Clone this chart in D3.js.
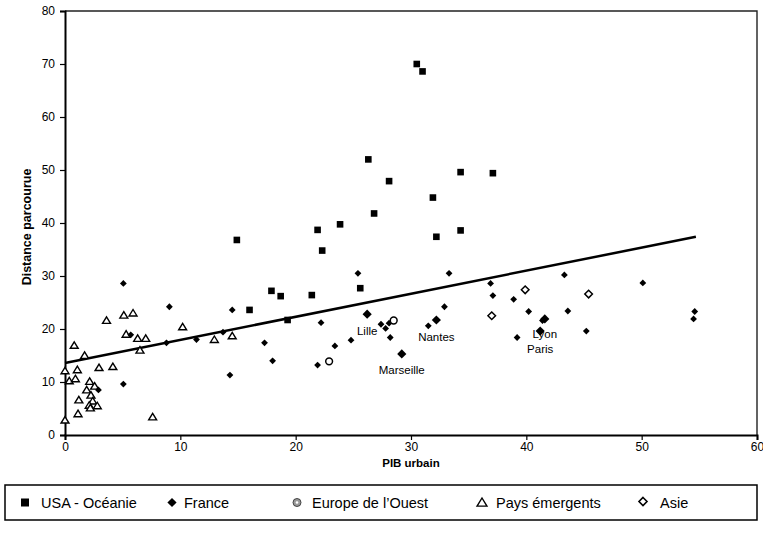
<!DOCTYPE html>
<html>
<head>
<meta charset="utf-8">
<script src="https://cdn.jsdelivr.net/npm/d3@7"></script>
<style>
  html, body { margin: 0; padding: 0; background: #fff; }
  svg { display: block; font-family: "Liberation Sans", Arial, sans-serif; }
</style>
</head>
<body>
<svg id="chart" width="763" height="537"></svg>
<script>
// ---- Data: PIB urbain (x) vs distance parcourue (y) ----
const usaX = [30.5, 31.0, 26.3, 34.3, 37.1, 28.1, 31.9, 26.8, 23.85, 21.9, 34.3, 32.2, 14.9, 22.3, 17.9, 18.7, 21.4, 16.0, 25.6, 19.3];
const usaY = [70.0, 68.6, 52.0, 49.6, 49.4, 47.9, 44.8, 41.8, 39.75, 38.7, 38.6, 37.4, 36.8, 34.8, 27.2, 26.2, 26.4, 23.6, 27.7, 21.7];

const franceX = [5.06, 9.05, 5.06, 2.9, 5.7, 8.8, 11.4, 13.7, 14.5, 14.3, 17.3, 18.0, 21.9, 22.2, 23.4, 24.8, 25.4, 27.4, 27.8, 28.1, 28.2, 31.5, 32.9, 33.3, 36.9, 37.1, 38.9, 40.2, 39.2, 41.4, 43.3, 43.6, 45.2, 50.1, 54.6, 54.5];
const franceY = [28.6, 24.2, 9.6, 8.5, 18.9, 17.4, 18.0, 19.4, 23.6, 11.3, 17.4, 14.0, 13.2, 21.2, 16.8, 17.9, 30.5, 20.9, 20.1, 21.1, 18.4, 20.6, 24.2, 30.5, 28.6, 26.3, 25.6, 23.3, 18.4, 21.6, 30.2, 23.4, 19.6, 28.7, 23.3, 21.9];

// Named French cities (part of the France series)
const villes = ["Lille", "Nantes", "Marseille", "Lyon", "Paris"];
const villesX = [26.2, 32.2, 29.2, 41.6, 41.2];
const villesY = [22.8, 21.7, 15.3, 21.9, 19.6];

const europeX = [28.5, 22.9];
const europeY = [21.6, 13.9];

const emergentsX = [0.8, 1.7, 3.6, 5.1, 5.9, 5.3, 6.3, 7.0, 6.5, 1.07, 2.95, 4.15, 0.37, 0.9, 2.14, 2.57, 1.88, 2.25, 1.2, 2.4, 2.1, 2.8, 2.2, 1.13, 7.6, 0, 0, 10.2, 12.95, 14.5];
const emergentsY = [16.9, 15.0, 21.6, 22.6, 23.0, 19.0, 18.2, 18.2, 16.0, 12.3, 12.7, 12.9, 10.2, 10.6, 10.1, 9.2, 8.5, 7.5, 6.6, 6.4, 5.6, 5.5, 5.1, 4.0, 3.4, 12.1, 2.8, 20.4, 18.0, 18.7];

const asieX = [37.0, 39.9, 45.4];
const asieY = [22.5, 27.4, 26.6];

// Linear trend line
const trendX = [0, 54.7];
const trendY = [13.6, 37.4];

const xTicks = [0, 10, 20, 30, 40, 50, 60];
const yTicks = [0, 10, 20, 30, 40, 50, 60, 70, 80];
const legendLabels = ["USA - Océanie", "France", "Europe de l\u2019Ouest", "Pays émergents", "Asie"];

// ---- Layout ----
const svg = d3.select("#chart");
const plot = { left: 65, right: 757, top: 11, bottom: 435 };

const x = d3.scaleLinear().domain([0, 60]).range([plot.left, plot.right]);
const y = d3.scaleLinear().domain([0, 80]).range([plot.bottom, plot.top]);

const zip = (xs, ys) => xs.map((v, i) => [v, ys[i]]);

// Frame (top and right sides)
svg.append("path")
  .attr("d", `M${plot.left},${plot.top}H${plot.right}V${plot.bottom}`)
  .attr("fill", "none").attr("stroke", "#222").attr("stroke-width", 1.4);

// Axes
const xAxis = svg.append("g")
  .attr("transform", `translate(0,${plot.bottom})`)
  .call(d3.axisBottom(x).tickValues(xTicks).tickSize(5).tickPadding(2).tickFormat(d3.format("d")));
const yAxis = svg.append("g")
  .attr("transform", `translate(${plot.left},0)`)
  .call(d3.axisLeft(y).tickValues(yTicks).tickSize(5).tickPadding(5).tickFormat(d3.format("d")));

[xAxis, yAxis].forEach(g => {
  g.select(".domain").attr("stroke", "#000").attr("stroke-width", 2);
  g.selectAll(".tick line").attr("stroke", "#000").attr("stroke-width", 1.2);
  g.selectAll(".tick text").attr("fill", "#000")
    .style("font-family", "'Liberation Sans', Arial, sans-serif")
    .style("font-size", "12px");
});

// Axis titles
svg.append("text")
  .attr("x", (plot.left + plot.right) / 2).attr("y", 467)
  .attr("text-anchor", "middle")
  .style("font-size", "11.5px").style("font-weight", "bold")
  .text("PIB urbain");

svg.append("text")
  .attr("transform", `translate(27,${(plot.top + plot.bottom) / 2 + 4}) rotate(-90)`)
  .attr("text-anchor", "middle").attr("dominant-baseline", "central")
  .style("font-size", "12.5px").style("font-weight", "bold")
  .text("Distance parcourue");

// Trend line
svg.append("path")
  .datum(zip(trendX, trendY))
  .attr("d", d3.line().x(d => x(d[0])).y(d => y(d[1])))
  .attr("fill", "none").attr("stroke", "#000").attr("stroke-width", 2.5);

// Marker shapes
const diamond = (r) => `M0,${-r}L${r},0L0,${r}L${-r},0Z`;
const triangle = (r) => `M0,${-r}L${r * 1.1},${r * 0.8}L${-r * 1.1},${r * 0.8}Z`;

const g = svg.append("g");

// Pays émergents (hollow triangles)
g.selectAll(".emergent").data(zip(emergentsX, emergentsY)).join("path")
  .attr("class", "emergent")
  .attr("transform", d => `translate(${x(d[0])},${y(d[1])})`)
  .attr("d", triangle(3.6))
  .attr("fill", "#fff").attr("stroke", "#000").attr("stroke-width", 1.4);

// USA - Océanie (filled squares)
g.selectAll(".usa").data(zip(usaX, usaY)).join("rect")
  .attr("class", "usa")
  .attr("x", d => x(d[0]) - 3.3).attr("y", d => y(d[1]) - 3.3)
  .attr("width", 6.6).attr("height", 6.6)
  .attr("fill", "#000");

// France (filled diamonds)
g.selectAll(".france").data(zip(franceX, franceY)).join("path")
  .attr("class", "france")
  .attr("transform", d => `translate(${x(d[0])},${y(d[1])})`)
  .attr("d", diamond(3.4))
  .attr("fill", "#000");

g.selectAll(".ville").data(zip(villesX, villesY)).join("path")
  .attr("class", "ville")
  .attr("transform", d => `translate(${x(d[0])},${y(d[1])})`)
  .attr("d", diamond(4.6))
  .attr("fill", "#000");

// Europe de l'Ouest (ringed circles)
g.selectAll(".europe").data(zip(europeX, europeY)).join("circle")
  .attr("class", "europe")
  .attr("cx", d => x(d[0])).attr("cy", d => y(d[1])).attr("r", 3.4)
  .attr("fill", "#fff").attr("stroke", "#000").attr("stroke-width", 1.5);

// Asie (hollow diamonds)
g.selectAll(".asie").data(zip(asieX, asieY)).join("path")
  .attr("class", "asie")
  .attr("transform", d => `translate(${x(d[0])},${y(d[1])})`)
  .attr("d", diamond(3.8))
  .attr("fill", "#fff").attr("stroke", "#000").attr("stroke-width", 1.5);

// City labels, set just below each named city
const labelDy = { Lille: 17, Nantes: 17, Marseille: 16.5, Lyon: 15.5, Paris: 18 };
svg.selectAll(".ville-label").data(villes).join("text")
  .attr("class", "ville-label")
  .attr("x", (d, i) => x(villesX[i]))
  .attr("y", (d, i) => y(villesY[i]) + labelDy[d])
  .attr("text-anchor", "middle").attr("dominant-baseline", "central")
  .style("font-size", "11.5px")
  .text(d => d);

// Legend
const legend = svg.append("g");
legend.append("rect")
  .attr("x", 5).attr("y", 485).attr("width", 752).attr("height", 35)
  .attr("fill", "#fff").attr("stroke", "#000").attr("stroke-width", 1.5);

const legendMarkX = [25, 172, 297, 482, 643];
const legendTextX = [41, 184, 312, 496, 660];
const ly = 502.5;

legend.append("rect").attr("x", legendMarkX[0] - 4).attr("y", ly - 4).attr("width", 8).attr("height", 8).attr("fill", "#000");
legend.append("path").attr("transform", `translate(${legendMarkX[1]},${ly})`).attr("d", diamond(4.6)).attr("fill", "#000");
legend.append("circle").attr("cx", legendMarkX[2]).attr("cy", ly).attr("r", 4)
  .attr("fill", "#999").attr("stroke", "#444").attr("stroke-width", 1);
legend.append("circle").attr("cx", legendMarkX[2]).attr("cy", ly).attr("r", 1.3).attr("fill", "#fff");
legend.append("path").attr("transform", `translate(${legendMarkX[3]},${ly})`).attr("d", triangle(4.5))
  .attr("fill", "#fff").attr("stroke", "#000").attr("stroke-width", 1.4);
legend.append("path").attr("transform", `translate(${legendMarkX[4]},${ly - 1})`).attr("d", diamond(4))
  .attr("fill", "#fff").attr("stroke", "#000").attr("stroke-width", 1.6);

legend.selectAll(".leg-text").data(legendLabels).join("text")
  .attr("class", "leg-text")
  .attr("x", (d, i) => legendTextX[i]).attr("y", ly)
  .attr("dominant-baseline", "central")
  .style("font-size", "14.5px")
  .text(d => d);
</script>
</body>
</html>
